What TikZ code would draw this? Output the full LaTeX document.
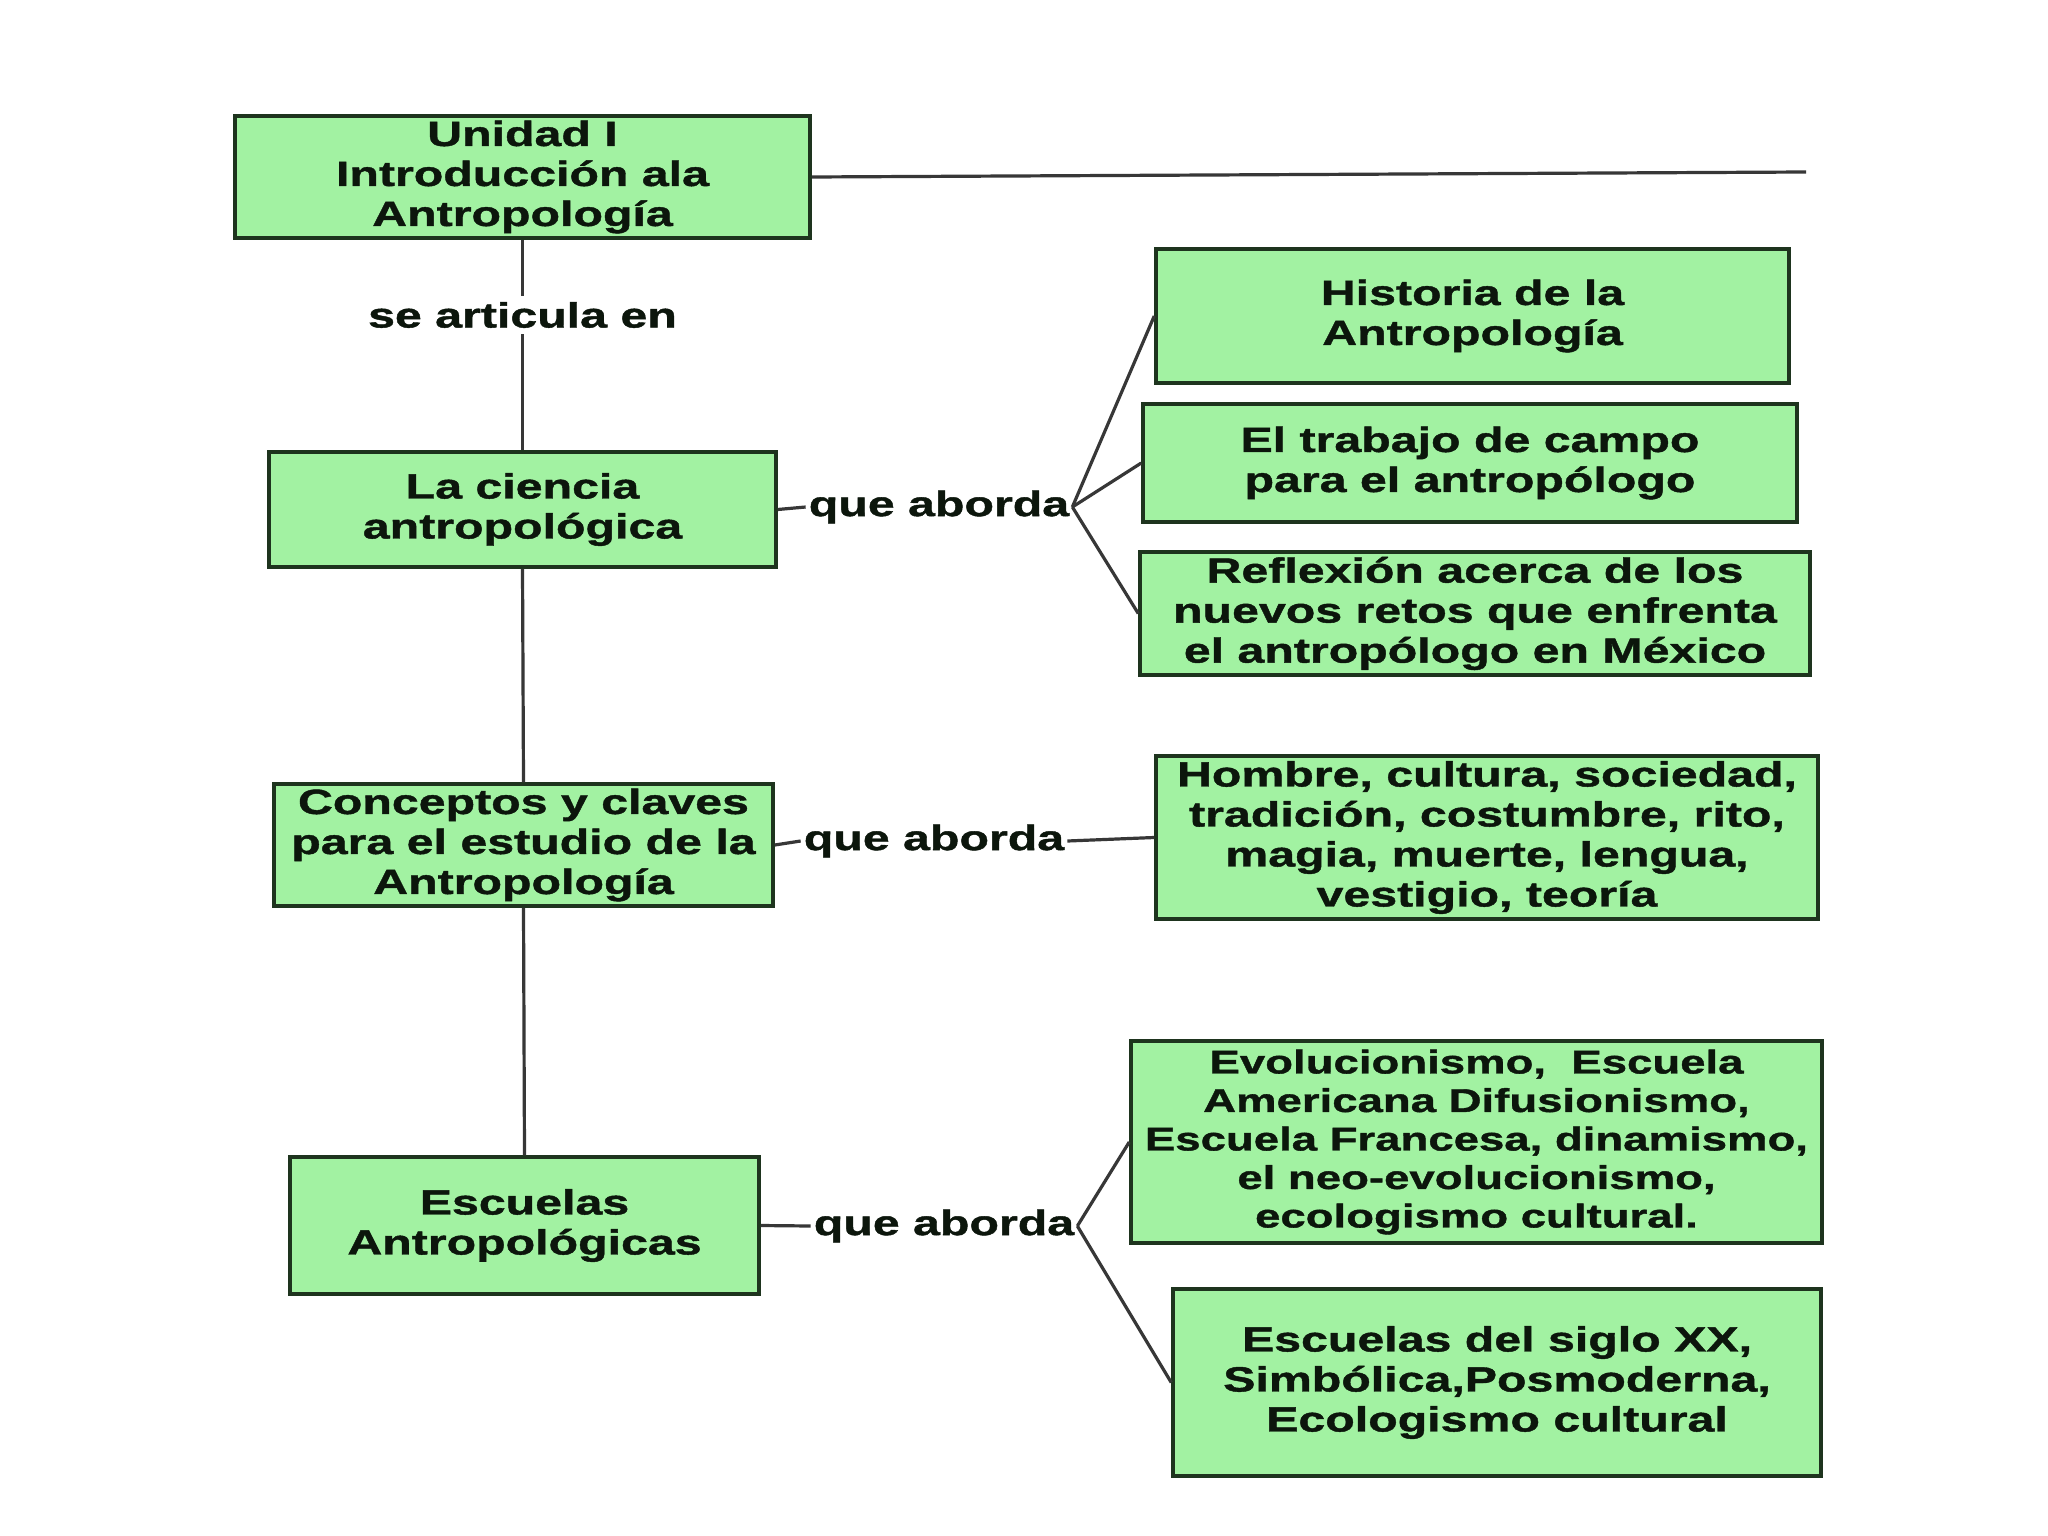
\documentclass[tikz,border=0pt]{standalone}
\usepackage{fontspec}
\setmainfont{Liberation Sans}[FakeStretch=1.38,FakeBold=1.2]
\definecolor{boxfill}{RGB}{162,242,162}
\definecolor{boxline}{RGB}{30,52,30}
\definecolor{lineclr}{RGB}{55,55,55}
\definecolor{txt}{RGB}{12,22,12}
\tikzset{
  box/.style={draw=boxline, fill=boxfill, line width=3.5pt, inner sep=0pt, align=center, text=txt,
    font=\bfseries\fontsize{35}{40}\selectfont},
  lbl/.style={inner xsep=3pt, inner ysep=6pt, text=txt, font=\bfseries\fontsize{35}{40}\selectfont},
  conn/.style={draw=lineclr, line width=3.2pt},
}
\begin{document}
\begin{tikzpicture}[x=1pt,y=-1pt]
\useasboundingbox[fill=white] (0,0) rectangle (2048,1536);
% left column
\node[box, minimum width=575pt, minimum height=122pt] (unidad) at (522.5,177) {Unidad I\\Introducción ala\\Antropología};
\node[lbl] (art) at (522.5,315) {se articula en};
\node[box, minimum width=507pt, minimum height=115pt] (ciencia) at (522.5,509.5) {La ciencia\\antropológica};
\node[box, minimum width=499pt, minimum height=122pt] (conceptos) at (523.5,845) {Conceptos y claves\\para el estudio de la\\Antropología};
\node[box, minimum width=469pt, minimum height=137pt] (escuelas) at (524.5,1225.5) {Escuelas\\Antropológicas};
% labels
\node[lbl] (qa1) at (939,507) {que aborda};
\node[lbl] (qa2) at (934,841) {que aborda};
\node[lbl] (qa3) at (944,1226) {que aborda};
% right column
\node[box, minimum width=633pt, minimum height=134pt] (historia) at (1472.5,316) {Historia de la\\Antropología};
\node[box, minimum width=654pt, minimum height=118pt] (trabajo) at (1470,463) {El trabajo de campo\\para el antropólogo};
\node[box, minimum width=670pt, minimum height=123pt] (reflexion) at (1475,613.5) {Reflexión acerca de los\\nuevos retos que enfrenta\\el antropólogo en México};
\node[box, minimum width=662pt, minimum height=163pt] (hombre) at (1487,837.5) {Hombre, cultura, sociedad,\\tradición, costumbre, rito,\\magia, muerte, lengua,\\vestigio, teoría};
\node[box, minimum width=691pt, minimum height=202pt, font=\bfseries\fontsize{33}{38.5}\selectfont] (evol) at (1476.5,1142) {Evolucionismo,\ \ Escuela\\Americana Difusionismo,\\Escuela Francesa, dinamismo,\\el neo-evolucionismo,\\ecologismo cultural.};
\node[box, minimum width=648pt, minimum height=187pt] (siglo) at (1497,1382.5) {Escuelas del siglo XX,\\Simbólica,Posmoderna,\\Ecologismo cultural};
\coordinate (hend) at (1806,172);
% connectors
\draw[conn] (unidad.east) -- (hend);
\draw[conn] (unidad.south) -- (art.north);
\draw[conn] (art.south) -- (ciencia.north);
\draw[conn] (ciencia.south) -- (conceptos.north);
\draw[conn] (conceptos.south) -- (escuelas.north);
\draw[conn] (ciencia.east) -- (qa1.west);
\draw[conn] (qa1.east) -- (historia.west);
\draw[conn] (qa1.east) -- (trabajo.west);
\draw[conn] (qa1.east) -- (reflexion.west);
\draw[conn] (conceptos.east) -- (qa2.west);
\draw[conn] (qa2.east) -- (hombre.west);
\draw[conn] (escuelas.east) -- (qa3.west);
\draw[conn] (qa3.east) -- (evol.west);
\draw[conn] (qa3.east) -- (siglo.west);
\end{tikzpicture}
\end{document}
